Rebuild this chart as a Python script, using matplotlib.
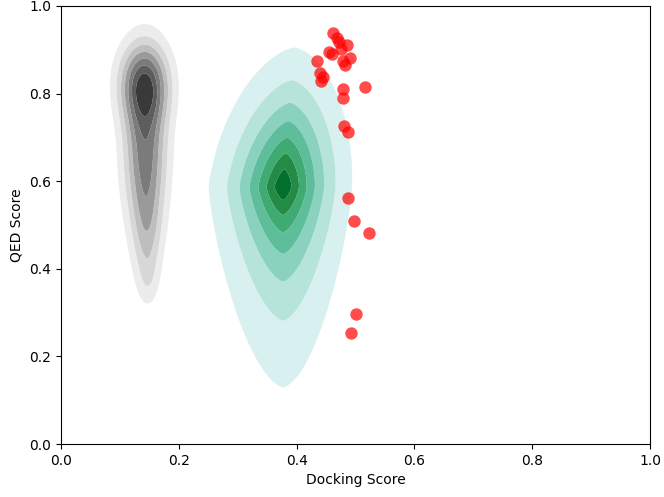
import numpy as np
import matplotlib
matplotlib.use("Agg")
import matplotlib.pyplot as plt

# red points : docking score / QED score
red_dock = [0.462, 0.468, 0.472, 0.486, 0.475, 0.455, 0.460, 0.434, 0.478, 0.491,
            0.482, 0.440, 0.445, 0.441, 0.478, 0.516, 0.479, 0.481, 0.488, 0.488,
            0.498, 0.523, 0.500, 0.492]
red_qed = [0.939, 0.926, 0.918, 0.911, 0.901, 0.894, 0.890, 0.875, 0.875, 0.881,
           0.865, 0.848, 0.837, 0.829, 0.811, 0.814, 0.790, 0.727, 0.713, 0.561,
           0.510, 0.482, 0.296, 0.253]

# grey density: x, y, sd x, sd y, weight
grey_cx = [0.141, 0.143, 0.146, 0.148]
grey_cy = [0.825, 0.67, 0.47, 0.37]
grey_sx = [0.030, 0.026, 0.018, 0.012]
grey_sy = [0.065, 0.125, 0.09, 0.04]
grey_w = [0.45, 0.45, 0.19, 0.06]

# green density: sharp peak, exponential flanks (left, right, down, up)
green_center = [0.377, 0.587]
green_decay = [0.115, 0.115, 0.22, 0.34]
green_cutoff = [0.09, 0.08, 10.0, 0.21]
green_p = 1.35
green_shear_up = 0.06

xs = np.linspace(0, 1, 600)
ys = np.linspace(0, 1, 600)
X, Y = np.meshgrid(xs, ys)

z_grey = np.zeros_like(X)
for a, b, c, d, e in zip(grey_cx, grey_cy, grey_sx, grey_sy, grey_w):
    z_grey += e * np.exp(-0.5 * (((X - a) / c) ** 2 + ((Y - b) / d) ** 2))

dx = X - green_center[0]
dy = Y - green_center[1]
dx = dx - green_shear_up * np.clip(dy, 0, None)
lx = np.where(dx < 0, green_decay[0], green_decay[1])
ly = np.where(dy < 0, green_decay[2], green_decay[3])
cx = np.where(dx < 0, green_cutoff[0], green_cutoff[1])
cy = np.where(dy < 0, green_cutoff[2], green_cutoff[3])
r = ((np.abs(dx) / lx) ** green_p + (np.abs(dy) / ly) ** green_p) ** (1 / green_p)
z_green = np.exp(-r - 0.5 * (dx / cx) ** 2 - 0.5 * (dy / cy) ** 2)

fig = plt.figure(figsize=(6.64, 4.97), dpi=100)
ax = fig.add_axes([0.0919, 0.1066, 0.979 - 0.0919, 0.988 - 0.1066])

nlev = 8
for cmap_name, Z, lo, hi in [("Greys", z_grey, 0.15, 0.82), ("BuGn", z_green, 0.19, 0.86)]:
    levels = np.linspace(0, Z.max() * 1.0001, nlev + 1)
    cmap = plt.get_cmap(cmap_name)
    cols = [(1, 1, 1, 0)] + [cmap(v) for v in np.linspace(lo, hi, nlev - 1)]
    ax.contourf(X, Y, Z, levels=levels, colors=cols, antialiased=True)

ax.scatter(red_dock, red_qed, s=80, color="red", alpha=0.7, linewidths=0)

ax.set_xlim(0, 1)
ax.set_ylim(0, 1)
ax.set_xlabel("Docking Score")
ax.set_ylabel("QED Score")

fig.savefig("out.png", dpi=100)
